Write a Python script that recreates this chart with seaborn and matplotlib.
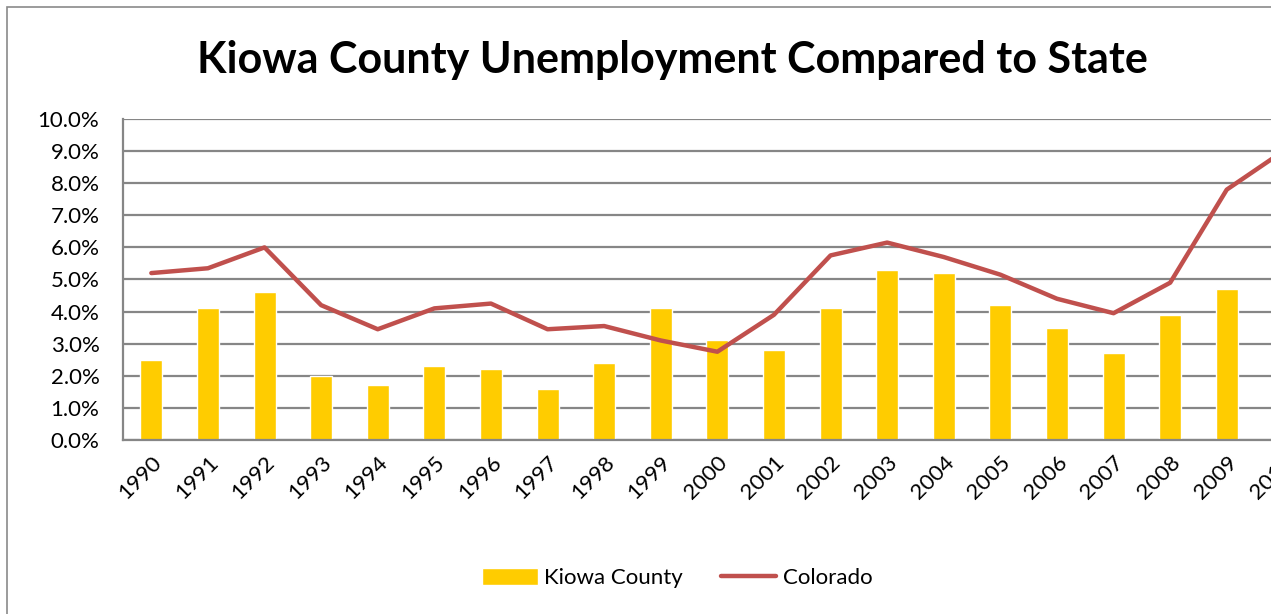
# Kiowa County vs Colorado unemployment, 1990-2010
import numpy as np
import pandas as pd
import seaborn as sns
import matplotlib.pyplot as plt
from matplotlib.patches import Patch, Rectangle
from matplotlib.lines import Line2D
from matplotlib.ticker import PercentFormatter

years = [str(y) for y in range(1990, 2011)]
kiowa = [2.5, 4.1, 4.6, 2.0, 1.7, 2.3, 2.2, 1.6, 2.4, 4.1, 3.1,
         2.8, 4.1, 5.3, 5.2, 4.2, 3.5, 2.7, 3.9, 4.7, np.nan]
colorado = [5.2, 5.35, 6.0, 4.2, 3.45, 4.1, 4.25, 3.45, 3.55, 3.1, 2.75,
            3.9, 5.75, 6.15, 5.7, 5.15, 4.4, 3.95, 4.9, 7.8, 9.0]

df = pd.DataFrame({"year": years, "kiowa": kiowa, "colorado": colorado})
df["pos"] = np.arange(len(df))

bar_color = "#FFCC00"
line_color = "#C0504D"
grid_color = "#868686"

sns.set_style("white")
plt.rcParams["font.family"] = ["Lato", "DejaVu Sans"]
plt.rcParams["text.color"] = "black"
plt.rcParams["xtick.color"] = "black"
plt.rcParams["ytick.color"] = "black"

fig = plt.figure(figsize=(12.71, 6.14), dpi=100)
ax = fig.add_axes([0.0968, 0.2834, 0.9352, 0.5228])

sns.barplot(data=df, x="year", y="kiowa", order=years, color=bar_color,
            width=0.39, saturation=1, ax=ax, zorder=2)
sns.lineplot(data=df, x="pos", y="colorado", color=line_color, linewidth=3.2,
             ax=ax, zorder=3)

ax.set_xlim(-0.5, len(years) - 0.5)
ax.set_ylim(0, 10)
ax.set_yticks(np.arange(0, 10.5, 1))
ax.yaxis.set_major_formatter(PercentFormatter(decimals=1))
ax.set_xticks(df["pos"])
ax.set_xticklabels(years, rotation=45, ha="right", rotation_mode="anchor")
ax.tick_params(axis="both", labelsize=16, length=0, colors="black")
ax.tick_params(axis="y", pad=17)
ax.tick_params(axis="x", pad=9)
ax.set_xlabel("")
ax.set_ylabel("")

ax.grid(axis="y", color=grid_color, linewidth=1.6, zorder=0)
ax.set_axisbelow(True)
for side in ["top", "right"]:
    ax.spines[side].set_visible(False)
for side in ["left", "bottom"]:
    ax.spines[side].set_color(grid_color)
    ax.spines[side].set_linewidth(1.6)

fig.text(0.529, 0.902, "Kiowa County Unemployment Compared to State",
         ha="center", va="center", fontsize=31, fontweight="bold",
         color="black")

# chart border (cropped at right and bottom)
fig.patches.append(Rectangle((7 / 1271, -0.1), 1.2, 0.1 + (614 - 7) / 614,
                             transform=fig.transFigure, fill=False,
                             edgecolor="#8a8a8a", linewidth=1.2))

handles = [Patch(facecolor=bar_color, label="Kiowa County"),
           Line2D([0], [0], color=line_color, linewidth=3.2, label="Colorado")]
fig.legend(handles=handles, loc="center", bbox_to_anchor=(0.533, 1 - 578 / 614),
           ncol=2, frameon=False, fontsize=16, handlelength=2.5,
           handleheight=0.85, columnspacing=1.7, handletextpad=0.3)

fig.savefig("out.png", dpi=100)
plt.close(fig)
